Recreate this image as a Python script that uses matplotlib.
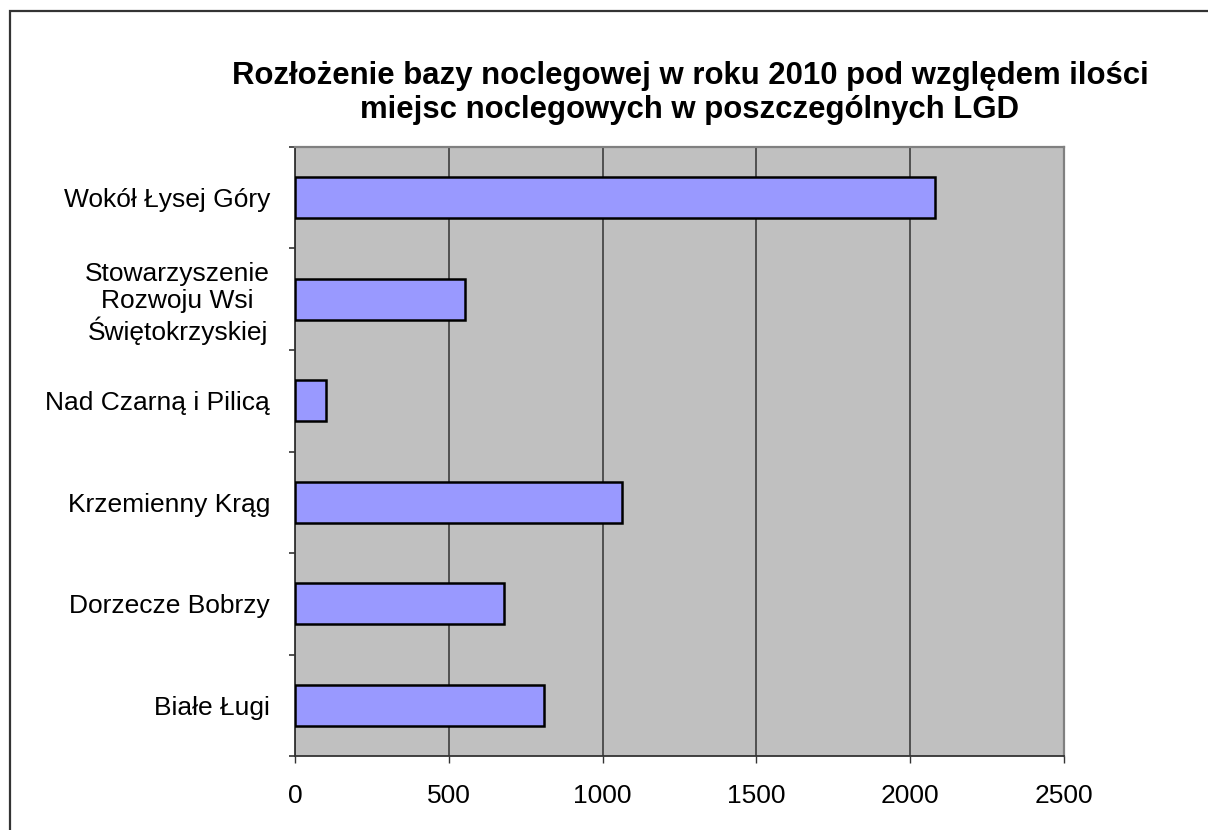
import matplotlib
matplotlib.use("Agg")
import matplotlib.pyplot as plt
from matplotlib.patches import Rectangle

# data (bottom -> top as drawn)
categories = ["Białe Ługi", "Dorzecze Bobrzy", "Krzemienny Krąg",
              "Nad Czarną i Pilicą",
              "Stowarzyszenie\nRozwoju Wsi\nŚwiętokrzyskiej",
              "Wokół Łysej Góry"]
values = [808, 679, 1064, 102, 553, 2081]
x_ticks = [0, 500, 1000, 1500, 2000, 2500]

plt.rcParams['font.family'] = ['Liberation Sans', 'DejaVu Sans']

fig = plt.figure(figsize=(12.08, 8.3), dpi=100)
fig.patch.set_facecolor("white")

# outer chart border (cut off at right and bottom like the screenshot)
fig.patches.append(Rectangle((9.5 / 1208, -0.05), 1.2, 1 - 11 / 830 + 0.05,
                             transform=fig.transFigure, fill=False,
                             edgecolor="#333333", linewidth=1.6))

ax = fig.add_axes([295 / 1208, 1 - 756 / 830, (1064 - 295) / 1208, (756 - 147) / 830])
ax.set_facecolor("#C0C0C0")

pos = list(range(len(categories)))
ax.barh(pos, values, height=0.4, color="#9999FF", edgecolor="black",
        linewidth=1.8, zorder=3)

ax.set_xlim(0, 2500)
ax.set_ylim(-0.5, len(categories) - 0.5)
ax.set_xticks(x_ticks)
ax.set_xticklabels([str(t) for t in x_ticks], fontsize=19)
ax.grid(axis="x", color="#333333", linewidth=1.1, zorder=1)

# category labels between minor ticks at boundaries
ax.set_yticks(pos)
ax.set_yticklabels(categories, fontsize=19, multialignment="center",
                   linespacing=1.15)
ax.set_yticks([p - 0.5 for p in range(len(categories) + 1)], minor=True)
ax.tick_params(axis="y", which="major", length=0, pad=18)
ax.tick_params(axis="y", which="minor", length=4, width=1.2, color="#333333")
ax.tick_params(axis="x", length=5, width=1.0, color="#333333", pad=15)

for side in ("top", "right"):
    ax.spines[side].set_color("#808080")
    ax.spines[side].set_linewidth(1.6)
for side in ("left", "bottom"):
    ax.spines[side].set_color("#333333")
    ax.spines[side].set_linewidth(1.3)

fig.text(690 / 1208, 1 - 93 / 830,
         "Rozłożenie bazy noclegowej w roku 2010 pod względem ilości\n"
         "miejsc noclegowych w poszczególnych LGD",
         ha="center", va="center", fontsize=22.4, fontweight="bold",
         linespacing=1.18)

fig.savefig("out.png", dpi=100, facecolor="white")
